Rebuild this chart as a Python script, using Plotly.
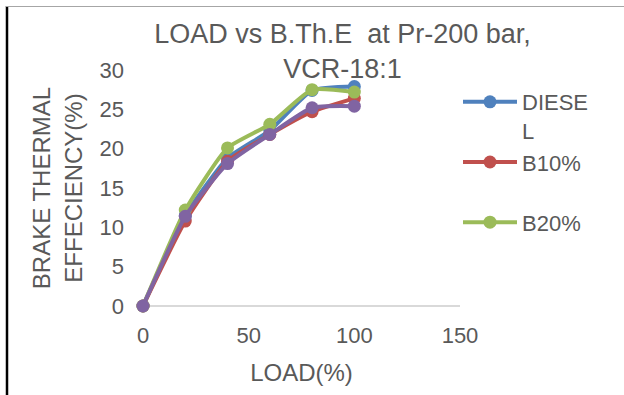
import plotly.graph_objects as go

load = [0, 20, 40, 60, 80, 100]
diesel = [0, 11.5, 18.8, 22.3, 27.4, 27.9]
b10 = [0, 10.8, 18.4, 21.8, 24.7, 26.4]
b20 = [0, 12.2, 20.1, 23.1, 27.5, 27.2]
b30 = [0, 11.4, 18.1, 21.8, 25.2, 25.4]

series = [
    ("DIESE<br>L", diesel, "#4F81BD", True),
    ("B10%<br> ", b10, "#C0504D", True),
    ("B20%", b20, "#9BBB59", True),
    ("B30%", b30, "#8064A2", False),
]

FONT = "Liberation Sans, Arial, sans-serif"
GRAY = "#595959"

fig = go.Figure()
for name, vals, col, show in series:
    fig.add_trace(go.Scatter(
        x=load, y=vals, name=name, mode="lines+markers",
        line=dict(color=col, width=4, shape="spline", smoothing=0.5),
        marker=dict(color=col, size=13),
        showlegend=show, cliponaxis=False,
    ))

# plot area in pixels
L, R, T, B = 143, 460, 70, 306
W, H = 624, 395
def px(x):
    return (x - L) / (R - L)
def py(y):
    return (B - y) / (B - T)

shapes = [
    dict(type="line", xref="paper", yref="paper", x0=px(7), x1=px(7), y0=py(6), y1=py(396),
         line=dict(color="black", width=2.5)),
    dict(type="line", xref="paper", yref="paper", x0=px(6), x1=px(625), y0=py(6.5), y1=py(6.5),
         line=dict(color="#A6A6A6", width=1)),
]

fig.update_layout(
    width=W, height=H,
    margin=dict(l=L, r=W - R, t=T, b=H - B),
    paper_bgcolor="white", plot_bgcolor="white",
    font=dict(family=FONT, color=GRAY, size=22),
    title=dict(text="LOAD vs B.Th.E  at Pr-200 bar,<br>VCR-18:1", x=342.5 / W, xref="container",
               xanchor="center", y=1 - 43 / H, yanchor="top", yref="container",
               font=dict(size=27, color=GRAY)),
    xaxis=dict(range=[0, 150], dtick=50, showgrid=False, zeroline=False,
               showline=False, ticks="", ticklabelstandoff=14,
               tickfont=dict(size=22, color=GRAY),
               title=dict(text="LOAD(%)", standoff=17, font=dict(size=24, color=GRAY))),
    yaxis=dict(range=[0, 30], dtick=5, showgrid=False, zeroline=True,
               zerolinecolor="#D9D9D9", zerolinewidth=2, showline=False, ticks="",
               ticklabelstandoff=18, tickfont=dict(size=22, color=GRAY),
               title=dict(text="BRAKE THERMAL<br>EFFECIENCY(%)", standoff=10,
                          font=dict(size=24, color=GRAY))),
    legend=dict(x=px(458), y=py(81), xanchor="left", yanchor="top",
                font=dict(size=22, color=GRAY), valign="top",
                bgcolor="rgba(0,0,0,0)", itemwidth=54),
    shapes=shapes,
    showlegend=True,
)

fig.write_html("out.html")
